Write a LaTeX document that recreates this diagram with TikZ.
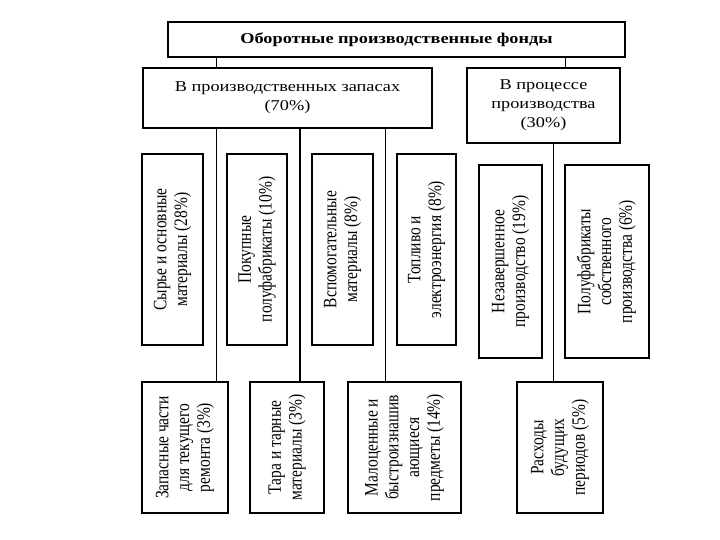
\documentclass[tikz,border=0pt]{standalone}
\usepackage{fontspec}
\setmainfont{Liberation Serif}
\newfontfamily\wideserif[FakeStretch=1.22]{Liberation Serif}
\usepackage{tikz}

\newcommand{\vtext}[1]{\rotatebox{90}{\scalebox{1}[1.22]{\begin{tabular}{@{}c@{}}#1\end{tabular}}}}

\tikzset{
  box/.style={shape=rectangle,draw=black,line width=1.1pt,inner sep=0pt,align=center},
  hbox/.style={box,font=\wideserif\fontsize{15}{19}\selectfont},
  titlebox/.style={box,font=\wideserif\bfseries\fontsize{15}{19}\selectfont},
  vbox/.style={box,font=\fontsize{15.5}{17}\selectfont},
  link/.style={-,line width=0.7pt},
}

\begin{document}
\begin{tikzpicture}[x=1pt,y=-1pt]
	\useasboundingbox (0,0) rectangle (720,540);

	\node[titlebox,minimum width=457pt,minimum height=35pt] (fond) at (396.5, 39.5) {Оборотные производственные фонды};
	\node[hbox,minimum width=289pt,minimum height=60pt] (zap) at (287.5, 98) {В производственных запасах\\(70\%)};
	\node[hbox,minimum width=153pt,minimum height=75pt] (proc) at (543.5, 105.5) {В процессе\\производства\\(30\%)};

	% upper row
	\node[vbox,minimum width=61pt,minimum height=191pt] (syr) at (172.5, 249.5) {\vtext{Сырье и основные\\материалы (28\%)}};
	\node[vbox,minimum width=60pt,minimum height=191pt] (pok) at (257, 249.5) {\vtext{Покупные\\полуфабрикаты (10\%)}};
	\node[vbox,minimum width=61pt,minimum height=191pt] (vsp) at (342.5, 249.5) {\vtext{Вспомогательные\\материалы (8\%)}};
	\node[vbox,minimum width=59pt,minimum height=191pt] (top) at (426.5, 249.5) {\vtext{Топливо и\\электроэнергия (8\%)}};
	\node[vbox,minimum width=63pt,minimum height=193pt] (nez) at (510.5, 261.5) {\vtext{Незавершенное\\производство (19\%)}};
	\node[vbox,minimum width=84pt,minimum height=193pt] (pol) at (607, 261.5) {\vtext{Полуфабрикаты\\собственного\\производства (6\%)}};

	% lower row
	\node[vbox,minimum width=86pt,minimum height=131pt] (zch) at (185, 447.5) {\vtext{Запасные части\\для текущего\\ремонта (3\%)}};
	\node[vbox,minimum width=74pt,minimum height=131pt] (tar) at (287, 447.5) {\vtext{Тара и тарные\\материалы (3\%)}};
	\node[vbox,minimum width=113pt,minimum height=131pt] (mal) at (404.5, 447.5) {\vtext{Малоценные и\\быстроизнашив\\ающиеся\\предметы (14\%)}};
	\node[vbox,minimum width=86pt,minimum height=131pt] (ras) at (560, 447.5) {\vtext{Расходы\\будущих\\периодов (5\%)}};

	\coordinate (c1) at (216, 0);
	\coordinate (c2) at (300, 0);
	\coordinate (c3) at (385, 0);
	\coordinate (c4) at (553, 0);
	\coordinate (c5) at (565, 0);

	\draw[link] (fond.south -| c1) -- (zap.north -| c1);
	\draw[link] (fond.south -| c5) -- (proc.north -| c5);
	\draw[link] (zap.south -| c1) -- (zch.north -| c1);
	\draw[link,line width=1.6pt] (zap.south -| c2) -- (tar.north -| c2);
	\draw[link] (zap.south -| c3) -- (mal.north -| c3);
	\draw[link] (proc.south -| c4) -- (ras.north -| c4);

\end{tikzpicture}
\end{document}
